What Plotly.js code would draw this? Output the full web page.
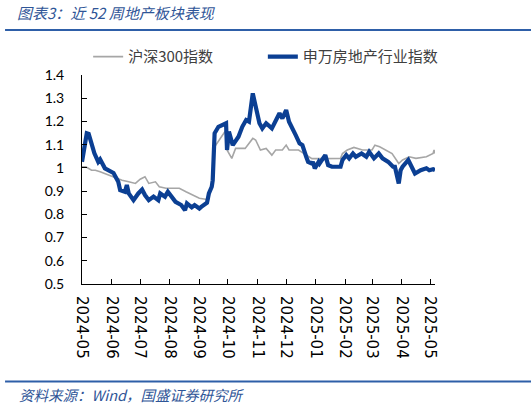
<!DOCTYPE html>
<html>
<head>
<meta charset="utf-8">
<script src="https://cdn.plot.ly/plotly-3.0.1.min.js"></script>
<style>
  html, body { margin: 0; padding: 0; background: #fff; }
  #chart { width: 531px; height: 406px; }
</style>
</head>
<body>
<div id="chart"></div>
<script>
// 沪深300指数 (normalised)
var hsDates = ['2024-05-10', '2024-05-14', '2024-05-20', '2024-05-24', '2024-05-29', '2024-06-07', '2024-06-17', '2024-06-21',
  '2024-06-28', '2024-07-05', '2024-07-10', '2024-07-15', '2024-07-19', '2024-07-26', '2024-07-30', '2024-08-06',
  '2024-08-13', '2024-08-20', '2024-08-27', '2024-09-03', '2024-09-10', '2024-09-18', '2024-09-20', '2024-09-24',
  '2024-09-26', '2024-10-08', '2024-10-09', '2024-10-14', '2024-10-18', '2024-10-28', '2024-11-01', '2024-11-05',
  '2024-11-08', '2024-11-13', '2024-11-19', '2024-11-25', '2024-11-29', '2024-12-06', '2024-12-10', '2024-12-13',
  '2024-12-23', '2024-12-30', '2025-01-06', '2025-01-14', '2025-01-23', '2025-02-05', '2025-02-07', '2025-02-12',
  '2025-02-19', '2025-02-28', '2025-03-10', '2025-03-13', '2025-03-18', '2025-03-24', '2025-03-31', '2025-04-07',
  '2025-04-11', '2025-04-18', '2025-04-25', '2025-05-06', '2025-05-13', '2025-05-14', '2025-05-15'];
var hsValues = [1.005, 1.005, 0.990, 0.990, 0.983, 0.969, 0.955, 0.947,
  0.940, 0.933, 0.951, 0.962, 0.933, 0.940, 0.919, 0.912,
  0.912, 0.912, 0.897, 0.883, 0.869, 0.864, 0.876, 0.930,
  1.091, 1.163, 1.077, 1.041, 1.084, 1.084, 1.106, 1.127,
  1.120, 1.077, 1.084, 1.055, 1.077, 1.077, 1.098, 1.077,
  1.077, 1.060, 1.040, 1.040, 1.041, 1.041, 1.062, 1.077,
  1.088, 1.077, 1.077, 1.098, 1.091, 1.077, 1.062, 1.019,
  1.034, 1.048, 1.041, 1.048, 1.062, 1.077, 1.062];

// 申万房地产行业指数 (normalised)
var reDates = ['2024-05-10', '2024-05-14', '2024-05-15', '2024-05-17', '2024-05-20', '2024-05-23', '2024-05-27', '2024-05-29',
  '2024-06-03', '2024-06-07', '2024-06-12', '2024-06-17', '2024-06-19', '2024-06-24', '2024-06-26', '2024-06-28',
  '2024-07-03', '2024-07-08', '2024-07-12', '2024-07-15', '2024-07-19', '2024-07-24', '2024-07-29', '2024-07-31',
  '2024-08-05', '2024-08-08', '2024-08-13', '2024-08-16', '2024-08-22', '2024-08-26', '2024-08-28', '2024-09-02',
  '2024-09-05', '2024-09-10', '2024-09-12', '2024-09-18', '2024-09-19', '2024-09-20', '2024-09-23', '2024-09-24',
  '2024-09-26', '2024-09-30', '2024-10-08', '2024-10-09', '2024-10-11', '2024-10-15', '2024-10-21', '2024-10-25',
  '2024-10-29', '2024-11-01', '2024-11-05', '2024-11-08', '2024-11-12', '2024-11-15', '2024-11-19', '2024-11-25',
  '2024-11-29', '2024-12-03', '2024-12-06', '2024-12-10', '2024-12-13', '2024-12-17', '2024-12-20', '2024-12-24',
  '2024-12-27', '2024-12-31', '2025-01-02', '2025-01-06', '2025-01-07', '2025-01-09', '2025-01-13', '2025-01-14',
  '2025-01-20', '2025-01-23', '2025-01-27', '2025-02-05', '2025-02-07', '2025-02-11', '2025-02-14', '2025-02-18',
  '2025-02-21', '2025-02-27', '2025-03-04', '2025-03-07', '2025-03-12', '2025-03-17', '2025-03-21', '2025-03-27',
  '2025-04-01', '2025-04-03', '2025-04-07', '2025-04-09', '2025-04-11', '2025-04-17', '2025-04-21', '2025-04-24',
  '2025-04-30', '2025-05-06', '2025-05-09', '2025-05-13', '2025-05-15'];
var reValues = [1.026, 1.134, 1.149, 1.146, 1.098, 1.063, 1.026, 1.037,
  0.998, 0.990, 0.978, 0.940, 0.904, 0.897, 0.926, 0.890,
  0.861, 0.890, 0.907, 0.883, 0.861, 0.876, 0.861, 0.890,
  0.876, 0.897, 0.869, 0.854, 0.840, 0.818, 0.847, 0.830,
  0.840, 0.825, 0.832, 0.850, 0.869, 0.890, 0.919, 0.947,
  1.149, 1.177, 1.192, 1.077, 1.156, 1.098, 1.134, 1.177,
  1.206, 1.199, 1.321, 1.263, 1.192, 1.170, 1.192, 1.170,
  1.206, 1.235, 1.213, 1.249, 1.199, 1.170, 1.141, 1.106,
  1.098, 1.048, 1.026, 1.019, 1.026, 0.998, 1.026, 1.019,
  1.055, 1.012, 1.005, 1.005, 1.034, 1.055, 1.041, 1.062,
  1.048, 1.062, 1.048, 1.069, 1.041, 1.062, 1.041, 1.026,
  1.005, 1.005, 0.933, 0.990, 1.005, 1.034, 1.005, 0.976,
  0.990, 0.998, 0.990, 0.994, 0.990];

var tickDates = ['2024-05-10', '2024-06-10', '2024-07-10', '2024-08-10', '2024-09-10', '2024-10-10', '2024-11-10',
  '2024-12-10', '2025-01-10', '2025-02-10', '2025-03-10', '2025-04-10', '2025-05-10'];
var tickLabels = ['2024-05', '2024-06', '2024-07', '2024-08', '2024-09', '2024-10', '2024-11',
  '2024-12', '2025-01', '2025-02', '2025-03', '2025-04', '2025-05'];

var blueText = '#2F5597';
var legendFont = { family: 'Noto Sans CJK SC', size: 15, color: '#404040' };

var traceHS = {
  x: hsDates,
  y: hsValues,
  type: 'scatter',
  mode: 'lines',
  name: '沪深300指数',
  legend: 'legend',
  line: { color: '#A6A6A6', width: 1.6 }
};

var traceRE = {
  x: reDates,
  y: reValues,
  type: 'scatter',
  mode: 'lines',
  name: '申万房地产行业指数',
  legend: 'legend2',
  line: { color: '#0B3F93', width: 4.2 }
};

var layout = {
  width: 531,
  height: 406,
  margin: { l: 82, r: 96, t: 75, b: 122 },
  paper_bgcolor: '#fff',
  plot_bgcolor: '#fff',
  title: {
    text: '<i>图表3：近 52 周地产板块表现</i>',
    xref: 'container', yref: 'container',
    x: 17 / 531, xanchor: 'left',
    y: 1 - 14 / 406, yanchor: 'middle',
    font: { family: 'Noto Sans CJK SC', size: 15, color: blueText }
  },
  showlegend: true,
  legend: {
    orientation: 'h',
    xref: 'container', yref: 'container',
    x: 0.166, y: 0.86, xanchor: 'left', yanchor: 'middle',
    font: legendFont,
    bgcolor: 'rgba(0,0,0,0)'
  },
  legend2: {
    orientation: 'h',
    xref: 'container', yref: 'container',
    x: 0.495, y: 0.86, xanchor: 'left', yanchor: 'middle',
    font: legendFont,
    bgcolor: 'rgba(0,0,0,0)'
  },
  xaxis: {
    type: 'date',
    range: ['2024-05-10', '2025-05-15'],
    tickvals: tickDates,
    ticktext: tickLabels,
    tickangle: 90,
    ticks: 'inside',
    ticklen: 5,
    tickcolor: '#000',
    showline: true,
    linecolor: '#000',
    linewidth: 1,
    showgrid: false,
    zeroline: false,
    ticklabelstandoff: 8,
    tickfont: { family: 'DejaVu Sans', size: 15, color: '#000' }
  },
  yaxis: {
    range: [0.5, 1.4],
    tickvals: [0.5, 0.6, 0.7, 0.8, 0.9, 1, 1.1, 1.2, 1.3, 1.4],
    ticktext: ['0.5', '0.6', '0.7', '0.8', '0.9', '1', '1.1', '1.2', '1.3', '1.4'],
    ticks: 'inside',
    ticklen: 5,
    tickcolor: '#000',
    showline: true,
    linecolor: '#000',
    linewidth: 1,
    showgrid: false,
    zeroline: false,
    ticklabelstandoff: 14,
    tickfont: { family: 'Lato', size: 14, color: '#000' }
  },
  shapes: [
    { type: 'line', xref: 'paper', yref: 'paper', x0: -0.218, x1: 1.272, y0: 1.215, y1: 1.215,
      line: { color: '#2E5FA8', width: 2 } },
    { type: 'line', xref: 'paper', yref: 'paper', x0: -0.218, x1: 1.272, y0: -0.467, y1: -0.467,
      line: { color: '#2E5FA8', width: 2 } }
  ],
  annotations: [
    { xref: 'paper', yref: 'paper', x: -0.184, y: -0.53, xanchor: 'left', yanchor: 'middle', showarrow: false,
      text: '<i>资料来源：Wind，国盛证券研究所</i>',
      font: { family: 'Noto Sans CJK SC', size: 14.5, color: blueText } }
  ]
};

Plotly.newPlot('chart', [traceHS, traceRE], layout, { displayModeBar: false, staticPlot: true });
</script>
</body>
</html>
